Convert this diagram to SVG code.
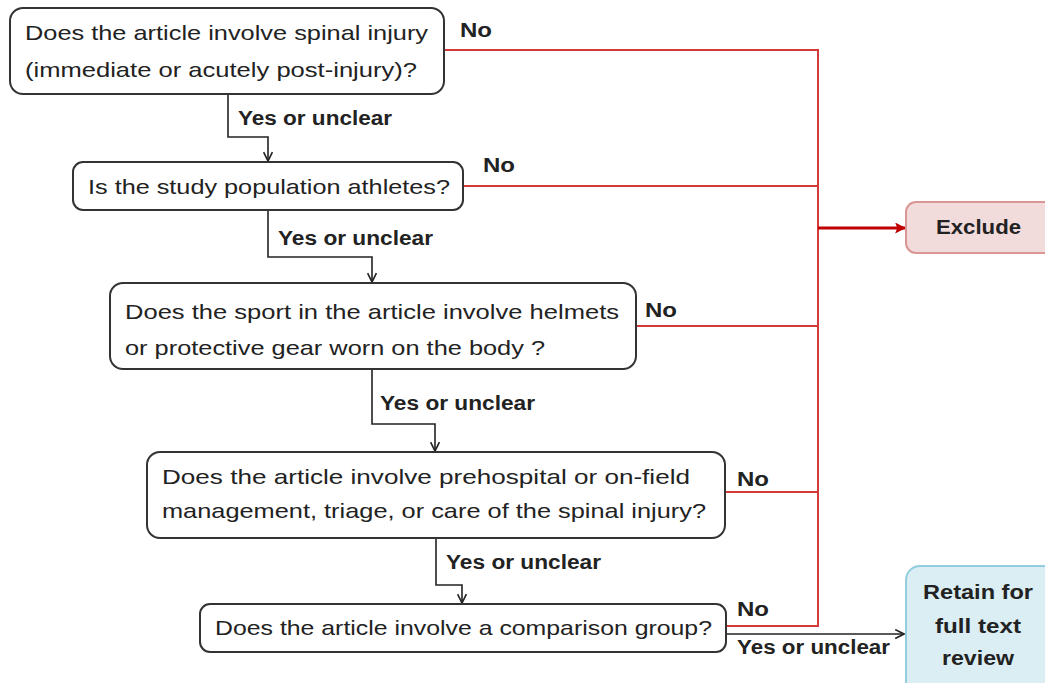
<svg xmlns="http://www.w3.org/2000/svg" width="1045" height="683" viewBox="0 0 1045 683">
<defs>
<style>
.box{fill:#fff;stroke:#333;stroke-width:2}
.q{font-family:"Liberation Sans",Arial,sans-serif;font-size:21px;fill:#222}
.lb{font-family:"Liberation Sans",Arial,sans-serif;font-size:20px;font-weight:bold;fill:#222}
.blk{fill:none;stroke:#222;stroke-width:1.6}
.red{fill:none;stroke:#d43a3a;stroke-width:2}
</style>
<marker id="ab" viewBox="0 0 10 10" refX="9" refY="5" markerWidth="11" markerHeight="11" orient="auto" markerUnits="userSpaceOnUse">
<path d="M1,1 L9,5 L1,9" fill="none" stroke="#222" stroke-width="1.5"/>
</marker>
<marker id="ar" viewBox="0 0 10 10" refX="9" refY="5" markerWidth="11" markerHeight="11" orient="auto" markerUnits="userSpaceOnUse">
<path d="M0,0 L10,5 L0,10 L2,5 z" fill="#c00000"/>
</marker>
</defs>
<rect width="1045" height="683" fill="#fff"/>
<g id="connectors">
<path class="blk" d="M228,94 V137 H268 V161" marker-end="url(#ab)"/>
<path class="blk" d="M268,210 V257 H372 V282" marker-end="url(#ab)"/>
<path class="blk" d="M372,369 V424 H435 V451" marker-end="url(#ab)"/>
<path class="blk" d="M436,538 V585 H462 V603" marker-end="url(#ab)"/>
<path class="blk" d="M726,634 H904" marker-end="url(#ab)"/>
<path class="red" d="M444,50 H818 V626 H726"/>
<path class="red" d="M463,186 H818"/>
<path class="red" d="M636,326 H818"/>
<path class="red" d="M725,492 H818"/>
<path d="M818,228 H905" fill="none" stroke="#c00000" stroke-width="3" marker-end="url(#ar)"/>
<text class="lb" x="238" y="125" textLength="154" lengthAdjust="spacingAndGlyphs">Yes or unclear</text>
<text class="lb" x="278" y="245" textLength="155" lengthAdjust="spacingAndGlyphs">Yes or unclear</text>
<text class="lb" x="380" y="410" textLength="155" lengthAdjust="spacingAndGlyphs">Yes or unclear</text>
<text class="lb" x="446" y="569" textLength="155" lengthAdjust="spacingAndGlyphs">Yes or unclear</text>
<text class="lb" x="737" y="654" textLength="153" lengthAdjust="spacingAndGlyphs">Yes or unclear</text>
<text class="lb" x="460" y="37" textLength="32" lengthAdjust="spacingAndGlyphs">No</text>
<text class="lb" x="483" y="172" textLength="32" lengthAdjust="spacingAndGlyphs">No</text>
<text class="lb" x="645" y="317" textLength="32" lengthAdjust="spacingAndGlyphs">No</text>
<text class="lb" x="737" y="486" textLength="32" lengthAdjust="spacingAndGlyphs">No</text>
<text class="lb" x="737" y="616" textLength="32" lengthAdjust="spacingAndGlyphs">No</text>
</g>
<g id="q1">
<rect class="box" x="10" y="8" width="434" height="86" rx="13"/>
<text class="q" x="25" y="40" textLength="403" lengthAdjust="spacingAndGlyphs">Does the article involve spinal injury</text>
<text class="q" x="25" y="77" textLength="392" lengthAdjust="spacingAndGlyphs">(immediate or acutely post-injury)?</text>
</g>
<g id="q2">
<rect class="box" x="73" y="162" width="390" height="48" rx="10"/>
<text class="q" x="88" y="194" textLength="362" lengthAdjust="spacingAndGlyphs">Is the study population athletes?</text>
</g>
<g id="q3">
<rect class="box" x="110" y="283" width="526" height="86" rx="13"/>
<text class="q" x="125" y="319" textLength="494" lengthAdjust="spacingAndGlyphs">Does the sport in the article involve helmets</text>
<text class="q" x="125" y="355" textLength="420" lengthAdjust="spacingAndGlyphs">or protective gear worn on the body ?</text>
</g>
<g id="q4">
<rect class="box" x="147" y="452" width="578" height="86" rx="13"/>
<text class="q" x="162" y="484" textLength="528" lengthAdjust="spacingAndGlyphs">Does the article involve prehospital or on-field</text>
<text class="q" x="162" y="518" textLength="544" lengthAdjust="spacingAndGlyphs">management, triage, or care of the spinal injury?</text>
</g>
<g id="q5">
<rect class="box" x="200" y="604" width="526" height="48" rx="10"/>
<text class="q" x="215" y="635" textLength="497" lengthAdjust="spacingAndGlyphs">Does the article involve a comparison group?</text>
</g>
<g id="exclude">
<rect x="906" y="202" width="150" height="51" rx="10" fill="#f2dcdb" stroke="#d99694" stroke-width="2"/>
<text class="lb" x="936" y="234" textLength="85" lengthAdjust="spacingAndGlyphs">Exclude</text>
</g>
<g id="retain">
<rect x="906" y="566" width="150" height="130" rx="14" fill="#dbeef4" stroke="#93cddd" stroke-width="2"/>
<text class="lb" x="923" y="599" textLength="110" lengthAdjust="spacingAndGlyphs">Retain for</text>
<text class="lb" x="935" y="633" textLength="86" lengthAdjust="spacingAndGlyphs">full text</text>
<text class="lb" x="942" y="665" textLength="72" lengthAdjust="spacingAndGlyphs">review</text>
</g>
</svg>
